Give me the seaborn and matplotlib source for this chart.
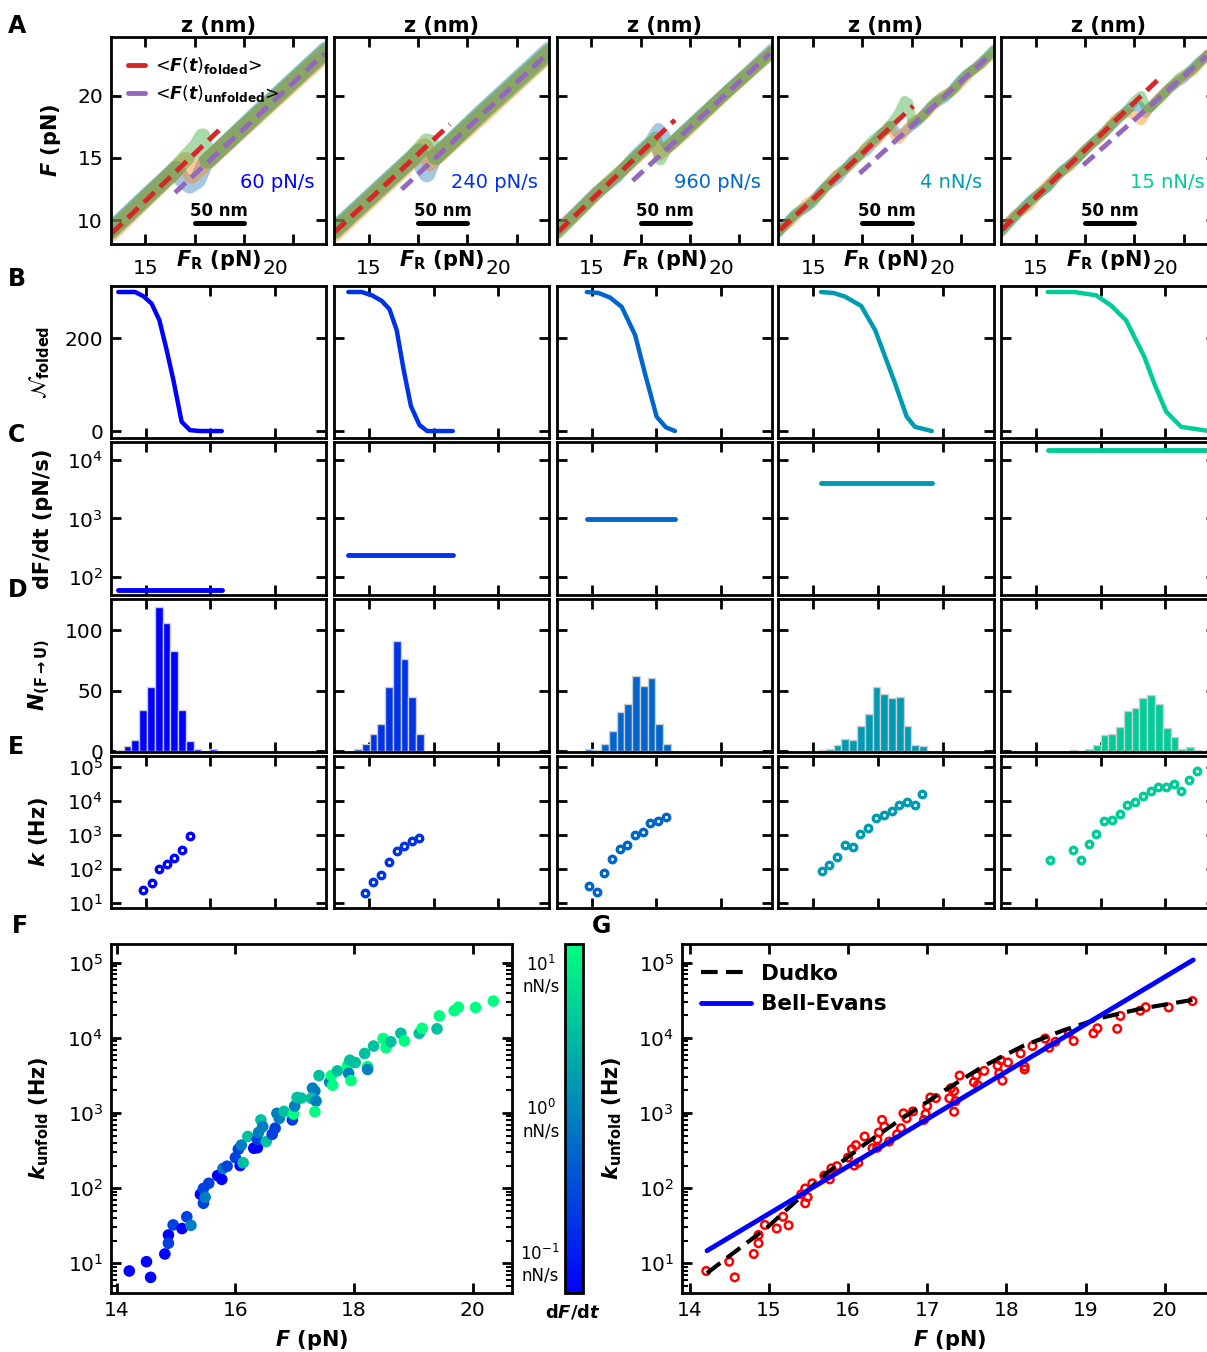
import numpy as np
import matplotlib
matplotlib.use("Agg")
import matplotlib.pyplot as plt
import seaborn as sns
from matplotlib.colors import LogNorm
from matplotlib.cm import ScalarMappable
from matplotlib.lines import Line2D
from matplotlib.ticker import LogLocator, NullLocator, NullFormatter, FixedLocator

# ---------------------------------------------------------------- data
rates_pn_s = [60, 240, 960, 4000, 15000]
rate_labels = ["60 pN/s", "240 pN/s", "960 pN/s", "4 nN/s", "15 nN/s"]

# mean force-extension branches (z in nm, F in pN)
fold_z = [[1.0, 110.6], [1.0, 117.4], [1.6, 119.7], [1.7, 136.6], [0.7, 158.6]]
fold_F = [[8.93, 17.30], [9.06, 17.70], [9.06, 18.05], [9.20, 19.17], [9.20, 21.26]]
unfold_z = [[65.1, 216.9], [68.5, 214.6], [76.9, 215.9], [82.3, 216.0], [83.3, 208.0]]
unfold_F = [[12.20, 23.41], [12.47, 23.27], [13.16, 23.41], [13.75, 23.40], [14.42, 23.20]]

# three example pulling traces per loading rate: (z, F) waypoints
traces_z = [
    [[0, 40, 66, 72, 80, 88, 95, 150, 218],
     [0, 50, 76, 82, 150, 218],
     [0, 60, 88, 93, 98, 150, 218]],
    [[0, 60, 86, 90, 94, 100, 150, 218],
     [0, 70, 92, 97, 150, 218],
     [0, 80, 94, 98, 103, 150, 218]],
    [[0, 20, 40, 60, 80, 95, 103, 108, 113, 130, 160, 190, 218],
     [0, 25, 50, 75, 98, 104, 130, 165, 218],
     [0, 30, 55, 85, 100, 105, 110, 140, 175, 218]],
    [[0, 15, 30, 45, 60, 75, 90, 105, 115, 120, 125, 140, 155, 170, 185, 200, 218],
     [0, 12, 28, 42, 58, 72, 88, 100, 112, 118, 122, 135, 150, 165, 180, 195, 210, 218],
     [0, 18, 35, 50, 65, 80, 95, 110, 122, 128, 132, 136, 145, 160, 175, 190, 205, 218]],
    [[0, 15, 30, 45, 60, 75, 90, 105, 120, 132, 140, 146, 155, 170, 185, 200, 215],
     [0, 14, 28, 40, 55, 70, 85, 100, 115, 128, 136, 142, 150, 165, 180, 195, 210],
     [0, 16, 32, 48, 62, 78, 94, 110, 125, 136, 142, 147, 152, 165, 180, 195, 212]],
]
traces_F = [
    [[9.2, 12.2, 14.1, 13.3, 12.8, 13.2, 14.5, 18.7, 23.7],
     [8.9, 12.8, 14.8, 13.6, 18.5, 23.4],
     [9.1, 13.6, 16.0, 16.7, 14.8, 18.6, 23.6]],
    [[9.2, 13.6, 15.5, 14.2, 13.7, 14.9, 18.7, 23.7],
     [8.9, 14.1, 15.9, 14.6, 18.4, 23.4],
     [9.1, 15.0, 16.3, 16.2, 15.1, 18.6, 23.5]],
    [[9.1, 10.6, 12.2, 13.4, 15.2, 16.3, 17.3, 16.9, 15.9, 17.2, 19.4, 21.6, 23.7],
     [9.0, 10.9, 12.9, 14.6, 16.3, 15.3, 17.0, 19.7, 23.5],
     [8.9, 11.3, 13.2, 15.4, 16.6, 14.9, 15.7, 17.9, 20.5, 23.5]],
    [[9.0, 10.3, 11.1, 12.5, 13.3, 14.8, 15.6, 17.0, 17.6, 17.0, 16.9, 17.9, 19.2, 19.9, 21.3, 22.3, 23.6],
     [9.2, 9.8, 11.3, 12.0, 13.6, 14.3, 15.8, 16.4, 17.6, 16.8, 16.5, 17.8, 18.6, 19.9, 20.6, 21.9, 22.9, 23.3],
     [9.0, 10.6, 11.4, 12.9, 14.0, 15.0, 16.4, 17.3, 18.6, 19.6, 19.4, 17.7, 18.2, 19.6, 20.3, 21.7, 22.5, 23.7]],
    [[9.1, 10.4, 11.6, 12.5, 13.8, 14.8, 16.0, 17.0, 18.3, 19.1, 19.2, 18.6, 19.4, 20.6, 21.4, 22.7, 23.6],
     [9.3, 10.4, 11.1, 12.3, 13.5, 14.3, 15.7, 16.6, 18.1, 18.7, 18.4, 18.0, 19.0, 20.2, 21.3, 22.0, 23.4],
     [9.0, 10.4, 11.7, 12.7, 14.0, 15.0, 16.3, 17.5, 18.6, 19.6, 20.0, 19.0, 19.1, 20.1, 21.4, 22.2, 23.5]],
]

# number of folded molecules vs ramp force
nfold_F = [
    [13.94, 14.59, 14.91, 15.23, 15.53, 15.81, 16.07, 16.39, 16.71, 17.10, 17.94],
    [14.20, 14.72, 15.11, 15.49, 15.79, 16.07, 16.33, 16.62, 16.95, 17.25, 18.24],
    [14.81, 15.26, 15.71, 16.16, 16.68, 17.06, 17.51, 17.87, 18.22],
    [15.30, 15.78, 16.23, 16.85, 17.39, 17.78, 18.16, 18.61, 18.93, 19.58],
    [15.45, 16.48, 17.32, 17.90, 18.48, 19.19, 19.57, 20.03, 20.61, 21.59, 21.90],
]
nfold_N = [
    [300, 300, 291, 275, 239, 175, 110, 20, 2, 0, 0],
    [300, 300, 293, 281, 263, 218, 135, 54, 13, 0, 0],
    [300, 298, 288, 268, 207, 124, 31, 8, 0],
    [300, 298, 290, 270, 218, 160, 103, 31, 9, 0],
    [300, 300, 293, 271, 239, 160, 103, 42, 9, 1, 0],
]

# unfolding-force histograms
hist_left = [13.85, 14.42, 14.76, 15.19, 16.30]
hist_width = 0.30
hist_counts = [
    [1, 4, 9, 34, 53, 119, 106, 83, 34, 8, 2, 0, 2],
    [2, 6, 14, 22, 53, 91, 76, 45, 14],
    [2, 1, 6, 17, 32, 39, 62, 54, 60, 22, 6],
    [1, 2, 5, 10, 9, 21, 31, 53, 47, 44, 45, 21, 5, 4],
    [1, 0, 2, 5, 13, 14, 20, 33, 36, 44, 46, 39, 19, 12, 2, 3, 1],
]

# unfolding rates per loading rate
rate_F = [
    [14.91, 15.23, 15.52, 15.81, 16.09, 16.42, 16.71],
    [14.85, 15.17, 15.46, 15.77, 16.07, 16.35, 16.65, 16.95],
    [14.88, 15.19, 15.46, 15.78, 16.09, 16.37, 16.69, 16.98, 17.27, 17.58, 17.89],
    [15.33, 15.62, 15.93, 16.22, 16.53, 16.82, 17.13, 17.42, 17.73, 18.04, 18.33, 18.62, 18.93, 19.22],
    [15.53, 16.42, 16.73, 17.04, 17.33, 17.64, 17.93, 18.24, 18.53, 18.84, 19.15, 19.44, 19.73, 20.04,
     20.33, 20.62, 20.93, 21.24],
]
rate_k = [
    [24.5, 40, 102, 137, 214, 356, 935],
    [19.5, 41, 67, 163, 340, 465, 655, 835],
    [32.6, 21.9, 76.5, 191, 382, 520, 1000, 1250, 2200, 2600, 3400],
    [87, 131, 230, 500, 430, 1050, 1630, 3160, 3750, 4900, 7800, 9550, 7300, 16200],
    [179, 355, 179, 540, 1090, 2500, 2730, 4200, 7600, 9500, 13500, 19900, 25100, 25100,
     31500, 19600, 41700, 74600],
]

# pooled k_unfold(F) with loading rate (nN/s)
pool_F = [14.21, 14.50, 14.57, 14.81, 14.87, 14.87, 14.95, 15.10, 15.18, 15.25,
          15.41, 15.46, 15.46, 15.49, 15.55, 15.70, 15.77, 15.79, 15.86, 16.00,
          16.08, 16.05, 16.10, 16.13, 16.21, 16.31, 16.37, 16.37, 16.39, 16.43,
          16.46, 16.52, 16.62, 16.67, 16.70, 16.74, 16.82, 16.96, 16.98, 17.00,
          17.04, 17.11, 17.30, 17.34, 17.28, 17.36, 17.34, 17.41, 17.59, 17.62,
          17.64, 17.72, 17.89, 17.91, 17.93, 18.02, 17.95, 18.18, 18.23, 18.23,
          18.33, 18.49, 18.54, 18.62, 18.79, 18.85, 19.10, 19.15, 19.40, 19.44,
          19.69, 19.76, 20.05, 20.35]
pool_k = [7.9, 10.5, 6.5, 13.3, 23.8, 18.5, 32.4, 29, 41.6, 32,
          83, 99, 63, 76, 116, 147, 131, 183, 196, 255,
          200, 330, 374, 218, 487, 340, 345, 445, 550, 810,
          660, 417, 520, 628, 990, 850, 1050, 810, 970, 1240,
          1610, 1580, 2140, 1960, 1570, 1440, 1040, 3150, 2580, 3150,
          2350, 3640, 4270, 3370, 5040, 4700, 2700, 6200, 4150, 3800,
          7790, 9800, 7400, 8880, 11500, 9100, 11500, 13400, 13200, 19600,
          23000, 25600, 25400, 30900]
pool_rate = [0.06, 0.06, 0.06, 0.06, 0.06, 0.24, 0.24, 0.06, 0.24, 0.96,
             0.06, 0.24, 0.24, 0.96, 0.24, 0.06, 0.06, 0.96, 0.24, 0.24,
             0.06, 0.24, 0.96, 4, 4, 0.06, 0.06, 0.24, 0.96, 4,
             0.96, 4, 0.24, 0.24, 0.96, 0.96, 4, 0.24, 15, 0.96,
             4, 4, 0.96, 0.96, 4, 0.96, 15, 4, 0.96, 15,
             15, 4, 15, 0.96, 4, 4, 15, 4, 15, 0.96,
             4, 15, 15, 4, 4, 15, 4, 15, 4, 15,
             15, 15, 15, 15]

# model fits
dudko_F = [14.22, 14.48, 14.98, 15.35, 15.72, 16.22, 16.72, 17.22, 17.71, 18.21, 18.71, 19.20, 19.70, 20.35]
dudko_k = [7.4, 12, 30, 68, 155, 390, 900, 2000, 4200, 7800, 12500, 18500, 24500, 32000]
bell_F = [14.22, 20.36]
bell_k = [14.7, 1.09e5]

# ---------------------------------------------------------------- style
sns.set_style("ticks")
plt.rcParams.update({
    "font.family": ["DejaVu Sans"],
    "mathtext.fontset": "dejavusans",
    "axes.linewidth": 2,
    "axes.edgecolor": "black",
    "axes.labelcolor": "black",
    "text.color": "black",
    "xtick.color": "black",
    "ytick.color": "black",
    "xtick.direction": "in",
    "ytick.direction": "in",
})

W, H = 1207, 1352
fig = plt.figure(figsize=(W / 100, H / 100), dpi=100)


def px_axes(left, top, width, height):
    return fig.add_axes([left / W, 1 - (top + height) / H, width / W, height / H])


def frame(ax):
    for s in ax.spines.values():
        s.set_visible(True)
        s.set_linewidth(2)
        s.set_color("black")
    ax.tick_params(which="both", direction="in", top=True, right=True, bottom=True, left=True,
                   colors="black")
    ax.tick_params(which="major", length=7, width=2, labelsize=14.5, pad=5.5)
    ax.tick_params(which="minor", length=4, width=1.5)


col_left = [110.7, 334.0, 556.7, 778.3, 1001.0]
col_w = 215.3
rowA = (37.3, 207.0)
rowB = (286.0, 152.0)
rowC = (442.0, 153.0)
rowD = (599.3, 152.4)
rowE = (755.7, 152.6)


def cell(c, row):
    return px_axes(col_left[c], row[0], col_w, row[1])


winter = plt.get_cmap("winter")
col_norm = LogNorm(60, 60000)
col_colors = [winter(col_norm(r)) for r in rates_pn_s]
trace_colors = ["#1f77b4", "#ff7f0e", "#2ca02c"]
trace_lw = [12, 12, 9, 7, 7]
lab_kw = dict(fontsize=15, fontweight="bold", color="black")

# ---------------------------------------------------------------- row A: force-extension traces
for c in range(5):
    ax = cell(c, rowA)
    for tz, tF, tc in zip(traces_z[c], traces_F[c], trace_colors):
        sns.lineplot(x=tz, y=tF, ax=ax, color=tc, lw=trace_lw[c], alpha=0.4, sort=False,
                     estimator=None, solid_capstyle="round", solid_joinstyle="round")
    sns.lineplot(x=fold_z[c], y=fold_F[c], ax=ax, color="#d62728", lw=3.5,
                 linestyle=(0, (3, 1.6)), sort=False, estimator=None)
    sns.lineplot(x=unfold_z[c], y=unfold_F[c], ax=ax, color="#9467bd", lw=3.5,
                 linestyle=(0, (3, 1.6)), sort=False, estimator=None)
    ax.set_xlim(0, 218)
    ax.set_ylim(8.05, 24.7)
    ax.set_xticks([35, 85, 135, 185])
    ax.set_yticks([10, 15, 20])
    frame(ax)
    ax.tick_params(labelbottom=False, labelleft=(c == 0))
    ax.xaxis.set_label_position("top")
    ax.set_xlabel("z (nm)", labelpad=4, **lab_kw)
    if c == 0:
        ax.set_ylabel(r"$\mathbfit{F}$ (pN)", **lab_kw)
        ax.yaxis.set_label_coords(-0.222, 0.5)
        handles = [Line2D([], [], color="#d62728", lw=3.5),
                   Line2D([], [], color="#9467bd", lw=3.5)]
        ax.legend(handles, [r"<$\mathbfit{F}(\mathbfit{t})_{\mathbf{folded}}$>",
                            r"<$\mathbfit{F}(\mathbfit{t})_{\mathbf{unfolded}}$>"],
                  loc="upper left", frameon=False, fontsize=12.5, handlelength=0.95,
                  handletextpad=0.6, labelspacing=0.4, borderaxespad=0.6)
    else:
        ax.set_ylabel("")
    ax.text(0.947, 0.30, rate_labels[c], transform=ax.transAxes, ha="right", va="center",
            color=col_colors[c], fontsize=14)
    ax.plot([85, 135], [9.78, 9.78], color="black", lw=3.6)
    ax.text(110, 10.75, "50 nm", ha="center", va="center", fontsize=12, fontweight="bold")
    fig.text((col_left[c] + col_w / 2) / W, 1 - 260 / H, r"$\mathbfit{F}_{\mathbf{R}}$ (pN)",
             ha="center", va="center", **lab_kw)


def fr_axis(ax, c, top_labels=False):
    ax.set_xlim(13.647, 21.97)
    ax.xaxis.set_major_locator(FixedLocator([15, 17.5, 20]))
    ax.xaxis.set_minor_locator(NullLocator())
    frame(ax)
    ax.tick_params(axis="x", labelbottom=False, labeltop=top_labels)
    ax.tick_params(axis="y", labelleft=(c == 0))
    if top_labels:
        ax.set_xticklabels(["15", "", "20"])
        ax.tick_params(axis="x", pad=6)
    ax.set_xlabel("")
    ax.set_ylabel("")


# ---------------------------------------------------------------- rows B-E
for c in range(5):
    # B: folded population
    axB = cell(c, rowB)
    sns.lineplot(x=nfold_F[c], y=nfold_N[c], ax=axB, color=col_colors[c], lw=3.2,
                 sort=False, estimator=None)
    axB.set_ylim(-15, 313)
    axB.set_yticks([0, 200])
    fr_axis(axB, c, top_labels=True)

    # C: loading rate
    axC = cell(c, rowC)
    axC.set_yscale("log")
    sns.lineplot(x=[nfold_F[c][0], nfold_F[c][-1]], y=[rates_pn_s[c], rates_pn_s[c]], ax=axC,
                 color=col_colors[c], lw=3.5, sort=False, estimator=None)
    axC.set_ylim(48.5, 20400)
    axC.yaxis.set_major_locator(FixedLocator([1e2, 1e3, 1e4]))
    axC.yaxis.set_minor_locator(NullLocator())
    fr_axis(axC, c)

    # D: unfolding force histogram
    axD = cell(c, rowD)
    nb = len(hist_counts[c])
    centers = [hist_left[c] + hist_width * (i + 0.5) for i in range(nb)]
    sns.histplot(x=centers, weights=hist_counts[c], binwidth=hist_width,
                 binrange=(hist_left[c], hist_left[c] + hist_width * nb), ax=axD,
                 color=col_colors[c], alpha=1, edgecolor="#cccccc", linewidth=1)
    axD.set_ylim(-0.5, 125.4)
    axD.set_yticks([0, 50, 100])
    fr_axis(axD, c)

    # E: unfolding rate
    axE = cell(c, rowE)
    axE.set_yscale("log")
    sns.scatterplot(x=rate_F[c], y=rate_k[c], ax=axE, marker="o", s=22, color=col_colors[c],
                    facecolor="white", edgecolor=col_colors[c], linewidth=2.4, legend=False, zorder=3)
    axE.set_ylim(7.1, 2.1e5)
    axE.yaxis.set_major_locator(FixedLocator([1e1, 1e2, 1e3, 1e4, 1e5]))
    axE.yaxis.set_minor_locator(NullLocator())
    fr_axis(axE, c)

    if c == 0:
        axB.set_ylabel(r"$\mathcal{N}_{\mathbf{folded}}$", fontsize=15, color="black")
        axB.yaxis.set_label_coords(-0.273, 0.5)
        axC.set_ylabel("dF/dt (pN/s)", **lab_kw)
        axC.yaxis.set_label_coords(-0.268, 0.5)
        axD.set_ylabel(r"$\mathbfit{N}_{\mathbf{(F\rightarrow U)}}$", **lab_kw)
        axD.yaxis.set_label_coords(-0.273, 0.5)
        axE.set_ylabel(r"$\mathbfit{k}$ (Hz)", **lab_kw)
        axE.yaxis.set_label_coords(-0.282, 0.5)


def kf_axis(ax, xticks):
    ax.set_yscale("log")
    ax.set_xlim(13.90, 20.66)
    ax.set_ylim(4.06, 1.76e5)
    ax.xaxis.set_major_locator(FixedLocator(xticks))
    ax.xaxis.set_minor_locator(NullLocator())
    ax.yaxis.set_major_locator(FixedLocator([1e1, 1e2, 1e3, 1e4, 1e5]))
    ax.yaxis.set_minor_locator(LogLocator(base=10, subs=np.arange(2, 10)))
    ax.yaxis.set_minor_formatter(NullFormatter())
    frame(ax)
    ax.tick_params(axis="x", pad=6)
    ax.set_xlabel(r"$\mathbfit{F}$ (pN)", **lab_kw)
    ax.xaxis.set_label_coords(0.5, -0.101)


# ---------------------------------------------------------------- F: pooled rates coloured by dF/dt
pool_norm = LogNorm(0.06, 15.5)
axF = px_axes(110.9, 944.3, 400.8, 348.4)
axF.set_yscale("log")
sns.scatterplot(x=pool_F, y=pool_k, hue=pool_rate, palette="winter", hue_norm=pool_norm,
                s=70, linewidth=0, legend=False, ax=axF)
kf_axis(axF, [14, 16, 18, 20])
axF.set_ylabel(r"$\mathbfit{k}_{\mathbf{unfold}}$ (Hz)", **lab_kw)
axF.yaxis.set_label_coords(-0.149, 0.5)

cax = px_axes(565, 944.3, 17.5, 348.4)
sm = ScalarMappable(norm=pool_norm, cmap=winter)
cb = fig.colorbar(sm, cax=cax)
cb.outline.set_linewidth(2)
cb.outline.set_edgecolor("black")
cb.set_ticks([0.1, 1, 10])
cb.set_ticklabels(["$10^{-1}$\nnN/s", "$10^{0}$\nnN/s", "$10^{1}$\nnN/s"])
cax.yaxis.set_minor_locator(LogLocator(base=10, subs=np.arange(2, 10)))
cax.yaxis.set_minor_formatter(NullFormatter())
cax.yaxis.set_ticks_position("left")
cax.tick_params(which="both", direction="in", left=True, right=False, labelleft=True,
                labelright=False, colors="black")
cax.tick_params(which="major", length=7, width=2, labelsize=12, pad=4)
cax.tick_params(which="minor", length=4, width=1.5)
for t in cax.get_yticklabels():
    t.set_multialignment("center")
fig.text(573 / W, 1 - 1312 / H, r"d$\mathbfit{F}$/d$\mathbfit{t}$", ha="center", va="center",
         fontsize=13, fontweight="bold", color="black")

# ---------------------------------------------------------------- G: model fits
axG = px_axes(681.7, 944.3, 535.3, 348.4)
axG.set_yscale("log")
sns.scatterplot(x=pool_F, y=pool_k, ax=axG, marker="o", s=30, color="red", facecolor="none",
                edgecolor="red", linewidth=1.8, legend=False, zorder=2)
sns.lineplot(x=dudko_F, y=dudko_k, ax=axG, color="black", lw=3, linestyle=(0, (4, 2)),
             sort=False, estimator=None, label="Dudko", zorder=3)
sns.lineplot(x=bell_F, y=bell_k, ax=axG, color="blue", lw=3.5, sort=False, estimator=None,
             label="Bell-Evans", zorder=4)
kf_axis(axG, [14, 15, 16, 17, 18, 19, 20])
axG.set_ylabel(r"$\mathbfit{k}_{\mathbf{unfold}}$ (Hz)", **lab_kw)
axG.yaxis.set_label_coords(-0.108, 0.5)
axG.legend(loc="upper left", frameon=False, prop={"weight": "bold", "size": 15.5},
           handlelength=2.3, handletextpad=0.5, borderaxespad=0.5)

# ---------------------------------------------------------------- panel letters
for letter, x, y in [("A", 8, 26), ("B", 8, 279), ("C", 8, 435), ("D", 8, 590),
                     ("E", 8, 747), ("F", 12, 926), ("G", 592, 926)]:
    fig.text(x / W, 1 - y / H, letter, ha="left", va="center", fontsize=17, fontweight="bold",
             color="black")

fig.savefig("out.png", dpi=100)
